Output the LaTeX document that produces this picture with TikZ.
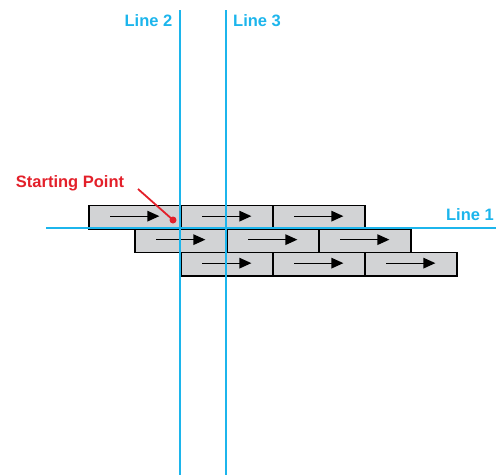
\documentclass[tikz,border=0pt]{standalone}
\usepackage{fontspec}
\setmainfont{Liberation Sans}
\usetikzlibrary{arrows.meta}
\definecolor{guide}{HTML}{1CB5EC}
\definecolor{brickfill}{HTML}{D2D3D5}
\definecolor{startred}{HTML}{E3202A}
\tikzset{
  brick/.style={draw=black, line width=1.8pt, fill=brickfill, rectangle, inner sep=0pt,
    minimum width=92pt, minimum height=23.5pt, anchor=north west},
  brickarrow/.style={line width=1.3pt, -{Triangle[length=12pt,width=10.5pt]}},
  guideline/.style={draw=guide, line width=1.3pt},
  guidelabel/.style={text=guide, font=\bfseries\fontsize{16.5}{18}\selectfont, inner sep=0pt},
}
\begin{document}
\begin{tikzpicture}[x=1pt,y=-1pt]
\useasboundingbox (0,0) rectangle (496,475);
% bricks
\node[brick] (b11) at (88,204.5) {};
\node[brick] (b12) at (180,204.5) {};
\node[brick] (b13) at (272,204.5) {};
\node[brick] (b21) at (134,228) {};
\node[brick] (b22) at (226,228) {};
\node[brick] (b23) at (318,228) {};
\node[brick] (b31) at (180,251.5) {};
\node[brick] (b32) at (272,251.5) {};
\node[brick] (b33) at (364,251.5) {};
\foreach \b in {b11,b12,b13,b21,b22,b23,b31,b32,b33}{
  \draw[brickarrow] ([xshift=-24.5pt,yshift=1pt]\b.center) -- ([xshift=24.5pt,yshift=1pt]\b.center);
}
% guide lines
\coordinate (l1a) at (46,228);
\coordinate (l1b) at (496,228);
\coordinate (l2a) at (180,10);
\coordinate (l2b) at (180,475);
\coordinate (l3a) at (226,10);
\coordinate (l3b) at (226,475);
\draw[guideline] (l1a) -- (l1b);
\draw[guideline] (l2a) -- (l2b);
\draw[guideline] (l3a) -- (l3b);
\node[guidelabel, anchor=east] (lab2) at (172.5,21) {Line 2};
\node[guidelabel, anchor=west] (lab3) at (233,21) {Line 3};
\node[guidelabel, anchor=east] (lab1) at (494,215) {Line 1};
% starting point
\node[text=startred, font=\bfseries\fontsize{16.5}{18}\selectfont, inner sep=0pt] (sp) at (70,183) {Starting Point};
\node[circle, fill=startred, inner sep=0pt, minimum size=7pt] (dot) at (173,220) {};
\coordinate (spline) at (138,189);
\draw[startred, line width=1.8pt] (spline) -- (dot.center);
\end{tikzpicture}
\end{document}
